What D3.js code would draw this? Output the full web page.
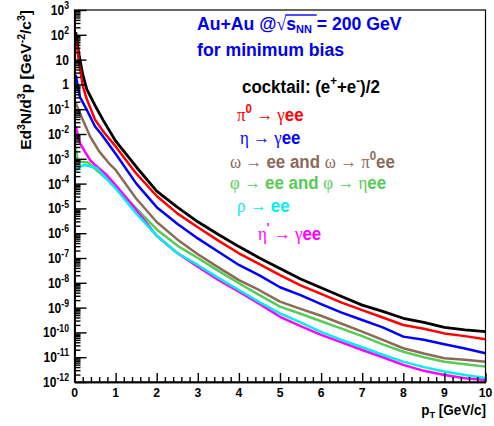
<!DOCTYPE html>
<html>
<head>
<meta charset="utf-8">
<script src="https://cdn.jsdelivr.net/npm/d3@7"></script>
<style>
  body { margin: 0; background: #fff; }
  svg { display: block; }
  text { font-family: "Liberation Sans", Arial, sans-serif; font-weight: bold; }
</style>
</head>
<body>
<svg id="chart"></svg>
<script>
var svgWidth = 494;
var svgHeight = 426;

// pT grid above 1 GeV/c, shared by all curves
var ptGrid = [1, 1.5, 2, 2.5, 3, 3.5, 4, 4.5, 5, 5.5, 6, 6.5, 7, 7.5, 8, 8.5, 9, 9.5, 10];

// curves: pT points and log10(Ed3N/d3p)
var ptCocktail = [0.03, 0.1, 0.2, 0.3, 0.5, 0.7].concat(ptGrid);
var logCocktail = [2.1, 1.3, 0.4, -0.2, -0.85, -1.45,
  -2.28, -3.32, -4.3, -4.95, -5.54, -6.05, -6.54, -7.0, -7.42, -7.85, -8.2, -8.55, -8.9, -9.15, -9.43, -9.6, -9.8, -9.9, -9.97];

var ptPi0 = [0.03, 0.1, 0.2, 0.3, 0.5, 0.7].concat(ptGrid);
var logPi0 = [2.0, 1.0, -0.05, -0.6, -1.42, -1.9,
  -2.5, -3.59, -4.5, -5.2, -5.76, -6.3, -6.81, -7.25, -7.69, -8.1, -8.45, -8.8, -9.1, -9.4, -9.7, -9.85, -10.04, -10.15, -10.28];

var ptEta = [0.03, 0.13, 0.3, 0.5, 0.65].concat(ptGrid);
var logEta = [0.38, -0.5, -1.03, -1.7, -2.0,
  -2.8, -3.99, -4.95, -5.62, -6.21, -6.75, -7.28, -7.7, -8.18, -8.5, -8.86, -9.2, -9.5, -9.8, -10.17, -10.3, -10.48, -10.65, -10.84];

var ptOmega = [0.03, 0.17, 0.38, 0.6, 0.85].concat(ptGrid);
var logOmega = [-0.75, -1.3, -2.1, -2.7, -3.2,
  -3.45, -4.6, -5.55, -6.25, -6.85, -7.38, -7.89, -8.3, -8.76, -9.05, -9.33, -9.65, -9.97, -10.3, -10.64, -10.85, -11.04, -11.1, -11.18];

var ptPhi = [0.02, 0.08, 0.15, 0.33, 0.5, 0.65].concat(ptGrid);
var logPhi = [-2.5, -3.05, -3.12, -3.15, -3.4, -3.62,
  -4.1, -5.0, -5.85, -6.5, -7.0, -7.52, -8.02, -8.5, -8.96, -9.25, -9.55, -9.85, -10.15, -10.48, -10.78, -11.0, -11.18, -11.28, -11.38];

var ptRho = [0.04, 0.15, 0.26, 0.54, 0.75].concat(ptGrid);
var logRho = [-3.48, -3.3, -3.25, -3.37, -3.75,
  -4.19, -5.2, -6.1, -6.8, -7.28, -7.8, -8.29, -8.78, -9.23, -9.6, -9.98, -10.3, -10.6, -10.9, -11.18, -11.4, -11.58, -11.72, -11.84];

var ptEtaP = [0.03, 0.13, 0.25, 0.38, 0.5, 0.75].concat(ptGrid);
var logEtaP = [-1.7, -2.36, -2.7, -3.05, -3.25, -3.6,
  -4.06, -5.06, -6.1, -6.8, -7.35, -7.88, -8.36, -8.85, -9.37, -9.75, -10.1, -10.4, -10.71, -11.0, -11.31, -11.55, -11.72, -11.85, -11.92];

// axis ticks
var xTicks = [0, 1, 2, 3, 4, 5, 6, 7, 8, 9, 10];
var yExponents = [3, 2, 1, 0, -1, -2, -3, -4, -5, -6, -7, -8, -9, -10, -11, -12];

var series = [
  { pt: ptCocktail, lg: logCocktail, color: "#000000", w: 2.8 },
  { pt: ptPi0, lg: logPi0, color: "#ff0000", w: 2.5 },
  { pt: ptEta, lg: logEta, color: "#0000ff", w: 2.5 },
  { pt: ptOmega, lg: logOmega, color: "#8c6a58", w: 2.5 },
  { pt: ptPhi, lg: logPhi, color: "#55cc55", w: 2.5 },
  { pt: ptEtaP, lg: logEtaP, color: "#ff00ff", w: 2.5 },
  { pt: ptRho, lg: logRho, color: "#00eeee", w: 2.5 }
];

var plot = { left: 74.5, right: 485.5, top: 10, bottom: 382 };

var svg = d3.select("#chart")
  .attr("width", svgWidth)
  .attr("height", svgHeight);

var x = d3.scaleLinear().domain([0, 10]).range([plot.left, plot.right]);
var y = d3.scaleLog().domain([1e-12, 1e3]).range([plot.bottom, plot.top]);

svg.append("clipPath").attr("id", "clip")
  .append("rect")
  .attr("x", plot.left).attr("y", plot.top)
  .attr("width", plot.right - plot.left).attr("height", plot.bottom - plot.top);

// curves
var line = d3.line()
  .x(d => x(d[0]))
  .y(d => y(d[1]));

var curves = svg.append("g").attr("clip-path", "url(#clip)");
series.forEach(function (s) {
  var pts = s.pt.map((p, i) => [p, Math.pow(10, s.lg[i])]);
  curves.append("path")
    .datum(pts)
    .attr("d", line)
    .attr("fill", "none")
    .attr("stroke", s.color)
    .attr("stroke-width", s.w)
    .attr("stroke-linejoin", "round");
});

// frame
svg.append("rect")
  .attr("x", plot.left).attr("y", plot.top)
  .attr("width", plot.right - plot.left).attr("height", plot.bottom - plot.top)
  .attr("fill", "none").attr("stroke", "#000").attr("stroke-width", 1.2);

// y axis: major + log minor ticks pointing inside
var yMajor = yExponents.map(e => Math.pow(10, e));
var yMinor = [];
yExponents.slice(1).forEach(function (e) {
  for (var k = 2; k <= 9; k++) yMinor.push(k * Math.pow(10, e));
});

var yMajorAxis = svg.append("g")
  .attr("transform", `translate(${plot.left},0)`)
  .call(d3.axisLeft(y).tickValues(yMajor).tickSizeInner(-12).tickSizeOuter(0).tickFormat(""));
var yMinorAxis = svg.append("g")
  .attr("transform", `translate(${plot.left},0)`)
  .call(d3.axisLeft(y).tickValues(yMinor).tickSizeInner(-6).tickSizeOuter(0).tickFormat(""));

// x axis
var xMinor = [];
for (var i = 0; i < 50; i++) if (i % 5 != 0) xMinor.push(i / 5);
var xMajorAxis = svg.append("g")
  .attr("transform", `translate(0,${plot.bottom})`)
  .call(d3.axisBottom(x).tickValues(xTicks).tickSizeInner(-9).tickSizeOuter(0).tickFormat(""));
var xMinorAxis = svg.append("g")
  .attr("transform", `translate(0,${plot.bottom})`)
  .call(d3.axisBottom(x).tickValues(xMinor).tickSizeInner(-5).tickSizeOuter(0).tickFormat(""));

[yMajorAxis, yMinorAxis, xMajorAxis, xMinorAxis].forEach(function (a) {
  a.selectAll("line").attr("stroke", "#000").attr("stroke-width", 1.4);
  a.select(".domain").attr("stroke", "#000").attr("stroke-width", 1.6);
});

// squeezed text helper: parts = [{t, sup, sub, greek}]
function label(px, py, parts, opts) {
  var size = opts.size || 14;
  var g = svg.append("g")
    .attr("transform", `translate(${px},${py}) ${opts.rotate ? "rotate(-90)" : ""} scale(${opts.sx || 1},1)`);
  var t = g.append("text")
    .attr("font-size", size)
    .attr("fill", opts.color || "#000")
    .attr("text-anchor", opts.anchor || "start");
  var shift = 0;
  parts.forEach(function (p) {
    var ts = t.append("tspan").text(p.t);
    var target = p.sup ? -size * 0.42 : p.sub ? size * (opts.subShift || 0.28) : 0;
    if (target != shift) { ts.attr("dy", target - shift); shift = target; }
    if (p.sup || p.sub) ts.attr("font-size", size * (opts.supScale || 0.68));
    if (p.greek) ts.attr("font-family", "'Liberation Serif', 'DejaVu Serif', serif").attr("font-weight", "normal");
  });
  return { g: g, t: t };
}

// y tick labels
yExponents.forEach(function (e) {
  var parts = e == 0 ? [{ t: "1" }] : e == 1 ? [{ t: "10" }] : [{ t: "10" }, { t: String(e), sup: true }];
  label(69, y(Math.pow(10, e)) + 5, parts, { anchor: "end", size: 14, sx: 0.86, supScale: 0.72 });
});

// x tick labels
xTicks.forEach(function (v) {
  label(x(v), 397, [{ t: String(v) }], { anchor: "middle", size: 13.5, sx: 0.9 });
});

// axis titles
label(486, 415, [{ t: "p" }, { t: "T", sub: true }, { t: " [GeV/c]" }], { anchor: "end", size: 14.5, sx: 0.93, subShift: 0.22 });
label(31, 10, [{ t: "Ed" }, { t: "3", sup: true }, { t: "N/d" }, { t: "3", sup: true }, { t: "p [GeV" },
  { t: "-2", sup: true }, { t: "/c" }, { t: "3", sup: true }, { t: "]" }],
  { anchor: "end", size: 15.5, rotate: true });

// header
var headOpts = { size: 19, sx: 0.93, color: "#0000ee", subShift: 0.16, supScale: 0.62 };
var head = label(197, 30, [{ t: "Au+Au @" }, { t: "\u221A", greek: true }, { t: "s" }, { t: "NN", sub: true }, { t: " = 200 GeV" }], headOpts);
(function () {
  var node = head.t.node();
  var s0 = node.getStartPositionOfChar(8).x;
  var s1 = node.getEndPositionOfChar(11).x;
  head.g.append("line").attr("x1", s0 - 1).attr("x2", s1)
    .attr("y1", -15).attr("y2", -15).attr("stroke", "#0000ee").attr("stroke-width", 1.4);
})();
label(197, 56, [{ t: "for minimum bias" }], headOpts);

// legend
var arrow = "\u2192";
var leg = { size: 19, sx: 0.89 };
function legOpts(c) { return { size: leg.size, sx: leg.sx, color: c }; }
label(242, 93, [{ t: "cocktail: (e" }, { t: "+", sup: true }, { t: "+e" }, { t: "-", sup: true }, { t: ")/2" }], legOpts("#000"));
label(237, 121, [{ t: "\u03C0", greek: true }, { t: "0", sup: true }, { t: " " + arrow + " \u03B3", greek: true }, { t: "ee" }],
  legOpts("#ff0000"));
label(240, 144, [{ t: "\u03B7 " + arrow + " \u03B3", greek: true }, { t: "ee" }], legOpts("#0000ff"));
label(230, 168, [{ t: "\u03C9 " + arrow + " ", greek: true }, { t: "ee and " }, { t: "\u03C9 " + arrow + " \u03C0", greek: true },
  { t: "0", sup: true }, { t: "ee" }], legOpts("#8c6a58"));
label(230, 189, [{ t: "\u03C6 " + arrow + " ", greek: true }, { t: "ee and " }, { t: "\u03C6 " + arrow + " \u03B7", greek: true },
  { t: "ee" }], legOpts("#55cc55"));
label(237, 212, [{ t: "\u03C1 " + arrow + " ", greek: true }, { t: "ee" }], legOpts("#00eeee"));
label(258, 240, [{ t: "\u03B7", greek: true }, { t: "'", sup: true }, { t: " " + arrow + " \u03B3", greek: true }, { t: "ee" }],
  legOpts("#ff00ff"));
</script>
</body>
</html>
